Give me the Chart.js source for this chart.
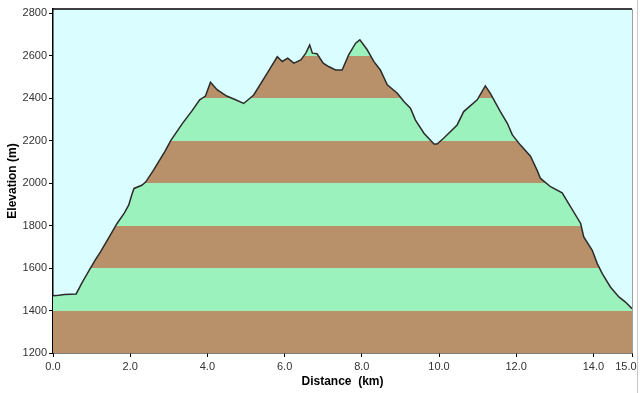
<!DOCTYPE html>
<html>
<head>
<meta charset="utf-8">
<script src="https://cdn.jsdelivr.net/npm/chart.js@4"></script>
<style>
  body { margin: 0; background: #fff; }
  #chart { display: block; }
</style>
</head>
<body>
<canvas id="chart" width="640" height="393"></canvas>
<script>
// profile data (km, m)
const distanceKm = [
  0.0, 0.15, 0.3, 0.6, 0.75, 0.97, 1.1, 1.23, 1.45, 1.66, 1.85, 1.96, 2.05, 2.1, 2.3, 2.4,
  2.6, 2.9, 3.05, 3.35, 3.6, 3.8, 3.95, 4.08, 4.25, 4.5, 4.7, 4.94, 5.2, 5.55, 5.81, 5.94,
  6.08, 6.24, 6.42, 6.55, 6.65, 6.72, 6.84, 7.0, 7.14, 7.32, 7.49, 7.66, 7.84, 7.95, 8.14,
  8.31, 8.48, 8.66, 8.92, 9.09, 9.26, 9.39, 9.61, 9.87, 9.95, 10.12, 10.47, 10.64, 10.99,
  11.2, 11.33, 11.59, 11.77, 11.9, 12.11, 12.37, 12.54, 12.63, 12.89, 13.19, 13.41, 13.67,
  13.75, 13.97, 14.1, 14.23, 14.44, 14.66, 14.83, 15.0
];
const elevationM = [
  1470, 1472, 1476, 1478, 1530, 1600, 1640, 1676, 1745, 1810, 1860, 1896, 1950, 1975, 1990, 2005,
  2060, 2150, 2200, 2280, 2340, 2392, 2410, 2475, 2440, 2410, 2395, 2375, 2415, 2518, 2595, 2573,
  2589, 2565, 2580, 2612, 2650, 2612, 2609, 2565, 2549, 2533, 2533, 2604, 2659, 2675, 2628,
  2573, 2533, 2463, 2423, 2384, 2353, 2297, 2235, 2184, 2184, 2211, 2274, 2337, 2392,
  2458, 2423, 2337, 2282, 2227, 2179, 2127, 2061, 2022, 1983, 1954, 1888, 1810,
  1747, 1684, 1621, 1574, 1511, 1464, 1440, 1409
];

const xTickValues = [0, 2, 4, 6, 8, 10, 12, 14, 15];
const yTickValues = [1200, 1400, 1600, 1800, 2000, 2200, 2400, 2600, 2800];

// bands every 200 m, brown / green
const bandEdges = [1200, 1400, 1600, 1800, 2000, 2200, 2400, 2600, 2820];
const bandColors = ["#b8916a", "#9cf2bc", "#b8916a", "#9cf2bc", "#b8916a", "#9cf2bc", "#b8916a", "#9cf2bc"];

const points = distanceKm.map((d, i) => ({ x: d, y: elevationM[i] }));

// vertical gradient with hard stops = horizontal bands
function bandFill(context) {
  const chart = context.chart;
  const area = chart.chartArea;
  if (!area) return bandColors[0];
  const y = chart.scales.y;
  const y0 = y.getPixelForValue(bandEdges[0]);
  const y1 = y.getPixelForValue(bandEdges[bandEdges.length - 1]);
  const g = chart.ctx.createLinearGradient(0, y0, 0, y1);
  const span = bandEdges[bandEdges.length - 1] - bandEdges[0];
  for (let i = 0; i < bandColors.length; i++) {
    const a = (bandEdges[i] - bandEdges[0]) / span;
    const b = (bandEdges[i + 1] - bandEdges[0]) / span;
    g.addColorStop(a, bandColors[i]);
    g.addColorStop(b, bandColors[i]);
  }
  return g;
}

const framePlugin = {
  id: "frame",
  beforeDraw(chart) {
    const { ctx, chartArea: a } = chart;
    ctx.save();
    ctx.fillStyle = "#dafeff";
    ctx.fillRect(a.left, a.top, a.right - a.left, a.bottom - a.top);
    ctx.restore();
  },
  afterDraw(chart) {
    const { ctx, chartArea: a } = chart;
    ctx.save();
    ctx.strokeStyle = "#000";
    ctx.lineWidth = 1.5;
    ctx.beginPath();
    ctx.moveTo(a.left, a.top);
    ctx.lineTo(a.right, a.top);
    ctx.stroke();
    ctx.strokeStyle = "#a0a0a0";
    ctx.lineWidth = 1;
    ctx.beginPath();
    ctx.moveTo(a.right + 0.5, a.top);
    ctx.lineTo(a.right + 0.5, a.bottom);
    ctx.stroke();
    ctx.strokeStyle = "#c8c8c8";
    ctx.beginPath();
    ctx.moveTo(637.5, 0);
    ctx.lineTo(637.5, 393);
    ctx.stroke();
    ctx.restore();
  }
};

const tickFont = { family: "Arial, 'Liberation Sans'", size: 11 };
const titleFont = { family: "Arial, 'Liberation Sans'", size: 12, weight: "bold" };

new Chart(document.getElementById("chart").getContext("2d"), {
  type: "line",
  data: {
    datasets: [
      {
        data: points,
        borderColor: "#2b2b2b",
        borderWidth: 1.5,
        backgroundColor: bandFill,
        fill: "start",
        pointRadius: 0,
        tension: 0,
      },
    ],
  },
  options: {
    responsive: false,
    animation: false,
    devicePixelRatio: 1,
    layout: { padding: { top: 9, right: 8, left: 0, bottom: 0 } },
    plugins: { legend: { display: false }, tooltip: { enabled: false } },
    scales: {
      x: {
        type: "linear",
        min: 0,
        max: 15,
        afterBuildTicks: (s) => { s.ticks = xTickValues.map((v) => ({ value: v })); },
        afterFit: (s) => { s.height = 40; s.paddingRight = 0; },
        ticks: {
          font: tickFont,
          color: "#333",
          padding: 3,
          maxRotation: 0,
          autoSkip: false,
          // last label sits shifted left, as in the original
          callback: (v) => (v === 15 ? v.toFixed(1) + "    " : v.toFixed(1)),
        },
        grid: { drawOnChartArea: false, tickLength: 4, color: "#000" },
        border: { color: "#000", width: 1.5 },
        title: { display: true, text: "Distance  (km)", font: titleFont, color: "#000", padding: { top: 0 } },
      },
      y: {
        type: "linear",
        min: 1200,
        max: 2820,
        afterBuildTicks: (s) => { s.ticks = yTickValues.map((v) => ({ value: v })); },
        afterFit: (s) => { s.width = 53; },
        ticks: { font: tickFont, color: "#333", padding: 2, autoSkip: false, callback: (v) => String(v) },
        grid: { drawOnChartArea: false, tickLength: 4, color: "#000" },
        border: { color: "#000", width: 1.5 },
        title: { display: true, text: "Elevation (m)", font: titleFont, color: "#000", padding: { top: 5, bottom: 0 } },
      },
    },
  },
  plugins: [framePlugin],
});
</script>
</body>
</html>
